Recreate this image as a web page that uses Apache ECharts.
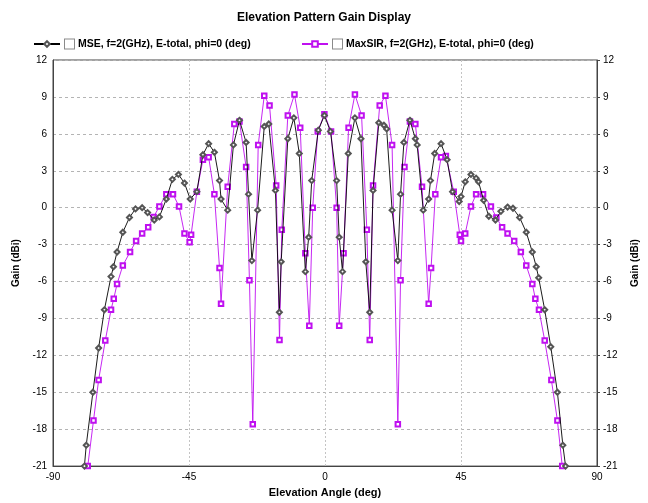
<!DOCTYPE html>
<html>
<head>
<meta charset="utf-8">
<script src="https://cdn.jsdelivr.net/npm/echarts@6/dist/echarts.min.js"></script>
<style>
  html, body { margin: 0; padding: 0; background: #fff; }
  #chart { width: 648px; height: 503px; }
</style>
</head>
<body>
<div id="chart"></div>
<script>
const mseName = 'MSE, f=2(GHz), E-total, phi=0 (deg)';
const sirName = 'MaxSIR, f=2(GHz), E-total, phi=0 (deg)';
const yTicks = [-21, -18, -15, -12, -9, -6, -3, 0, 3, 6, 9, 12];
const xTicks = [-90, -45, 0, 45, 90];

const mseAngle = [-79.6, -79.0, -76.8, -74.9, -73.0, -70.8, -70.0, -68.8, -66.9, -64.7, -62.7, -60.5, -58.7, -56.5, -54.8,
  -52.5, -50.5, -48.5, -46.5, -44.6, -42.4, -40.4, -38.5, -36.6, -34.9, -34.4, -32.2, -30.3, -28.3, -26.1, -25.3, -24.2,
  -22.3, -20.1, -18.6, -16.4, -15.1, -14.5, -12.3, -10.3, -8.5, -6.5, -5.4, -4.4, -2.2, -0.2, 1.8, 3.85, 4.7, 5.8, 7.7,
  9.9, 11.9, 13.5, 14.8, 15.9, 17.8, 19.5, 20.4, 22.2, 24.1, 25.0, 26.1, 28.1, 29.9, 30.5, 32.5, 34.3, 34.9, 36.3, 38.4,
  40.4, 42.2, 44.4, 45.0, 46.4, 48.3, 50.0, 50.8, 52.5, 54.2, 56.4, 58.2, 60.4, 62.2, 64.4, 66.6, 68.6, 69.9, 70.7, 72.7,
  74.7, 76.9, 78.7, 79.6];
const mseGain = [-21, -19.3, -15.0, -11.4, -8.3, -5.6, -4.8, -3.6, -2.0, -0.8, -0.1, 0.0, -0.4, -1.0, -0.75,
  0.7, 2.3, 2.7, 2.0, 0.7, 1.3, 4.3, 5.2, 4.5, 2.2, 0.7, -0.2, 5.1, 7.1, 5.3, 1.1, -4.3,
  -0.2, 6.6, 6.8, 1.4, -8.5, -4.4, 5.6, 7.3, 4.4, -5.2, -2.4, 2.2, 6.3, 7.5, 6.2, 2.2, -2.4, -5.2, 4.4,
  7.3, 5.6, -4.4, -8.5, 1.4, 6.9, 6.7, 6.4, -0.2, -4.3, 1.1, 5.3, 7.1, 5.6, 5.1, -0.2, 0.7, 2.2, 4.4, 5.2,
  3.9, 1.3, 0.5, 0.9, 2.1, 2.7, 2.4, 2.1, 0.6, -0.7, -1.0, -0.3, 0.05, -0.05, -0.8, -2.0, -3.6, -4.8, -5.7, -8.3,
  -11.3, -15.0, -19.3, -21];

const sirAngle = [-78.5, -76.6, -74.9, -72.7, -70.8, -69.9, -68.8, -66.9, -64.5, -62.5, -60.5, -58.5, -56.7, -54.8,
  -52.5, -50.3, -48.3, -46.5, -44.8, -44.3, -42.4, -40.4, -38.5, -36.6, -34.9, -34.4, -32.2, -30.0, -28.3, -26.1,
  -25.0, -23.9, -22.1, -20.1, -18.35, -16.15, -15.05, -14.3, -12.3, -10.1, -8.2, -6.5, -5.2, -4.05, -2.4, -0.2,
  2.0, 3.85, 4.7, 6.15, 7.8, 9.9, 12.1, 13.85, 14.8, 15.9, 18.1, 20.0, 22.2, 24.1, 25.0, 26.3, 28.1, 29.9, 32.1,
  34.3, 35.1, 36.5, 38.4, 40.0, 42.6, 44.6, 45.0, 46.4, 48.3, 50.0, 52.3, 54.9, 56.7, 58.6, 60.4, 62.6, 64.8, 66.6,
  68.6, 69.6, 70.8, 72.7, 74.9, 76.9, 78.5];
const sirGain = [-21, -17.3, -14.0, -10.8, -8.3, -7.4, -6.2, -4.7, -3.6, -2.7, -2.1, -1.6, -0.75, 0.1,
  1.1, 1.1, 0.1, -2.1, -2.8, -2.2, 1.3, 3.9, 4.1, 1.1, -4.9, -7.8, 1.7, 6.8, 7.0, 3.3,
  -5.9, -17.6, 5.1, 9.1, 8.3, 1.8, -10.75, -1.8, 7.5, 9.2, 6.5, -3.7, -9.6, 0, 6.2, 7.6,
  6.2, 0, -9.6, -3.7, 6.5, 9.2, 7.5, -1.8, -10.75, 1.8, 8.3, 9.1, 5.1, -17.6, -5.9, 3.3, 7.0, 6.8, 1.7,
  -7.8, -4.9, 1.1, 4.1, 4.2, 1.3, -2.2, -2.7, -2.1, 0.1, 1.1, 1.1, 0.1, -0.8, -1.6, -2.1, -2.7, -3.6, -4.7,
  -6.2, -7.4, -8.3, -10.8, -14.0, -17.3, -21];

const purple = '#bf10f0';
const font = 'Liberation Sans, Arial, sans-serif';
const narrow = 'Liberation Sans Narrow, Arial Narrow, Liberation Sans, sans-serif';

function zip(a, b) {
  return a.map((x, i) => [x, b[i]]);
}

function yAxisCfg(pos) {
  return {
    type: 'value',
    position: pos,
    min: yTicks[0],
    max: yTicks[yTicks.length - 1],
    interval: 3,
    name: 'Gain (dBi)',
    nameLocation: 'middle',
    nameGap: pos === 'left' ? 28 : 33,
    nameTextStyle: { fontFamily: font, fontSize: 10, fontWeight: 'bold', color: '#000' },
    axisLine: { show: true, onZero: false, lineStyle: { color: '#444', width: 1 } },
    axisTick: { show: pos === 'right', length: 3, lineStyle: { color: '#444' } },
    axisLabel: { fontFamily: font, fontSize: 10, color: '#000', margin: 6 },
    splitLine: pos === 'left'
      ? { show: true, lineStyle: { color: '#b4b4b4', type: [3, 3], width: 1 } }
      : { show: false }
  };
}

const legendRich = {
  box: { width: 9, height: 9, borderColor: '#8a8a8a', borderWidth: 1, backgroundColor: '#fff' },
  txt: { fontFamily: narrow, fontSize: 10.5, fontWeight: 'bold', color: '#000', padding: [0, 0, 0, 4] }
};

const chart = echarts.init(document.getElementById('chart'), null, { renderer: 'canvas' });
chart.setOption({
  animation: false,
  backgroundColor: '#fff',
  title: {
    text: 'Elevation Pattern Gain Display',
    left: 'center',
    top: 7,
    textStyle: { fontFamily: font, fontSize: 12, fontWeight: 'bold', color: '#000' }
  },
  legend: [
    {
      data: [mseName],
      left: 28,
      top: 33,
      itemWidth: 26,
      itemHeight: 7,
      itemGap: 4,
      formatter: n => '{box|}{txt|' + n + '}',
      textStyle: { rich: legendRich }
    },
    {
      data: [sirName],
      left: 296,
      top: 33,
      itemWidth: 26,
      itemHeight: 7,
      itemGap: 4,
      formatter: n => '{box|}{txt|' + n + '}',
      textStyle: { rich: legendRich }
    }
  ],
  grid: {
    left: 53,
    right: 49,
    top: 60,
    bottom: 34,
    show: true,
    borderColor: '#444',
    borderWidth: 1,
    backgroundColor: '#fff'
  },
  xAxis: {
    type: 'value',
    min: xTicks[0],
    max: xTicks[xTicks.length - 1],
    interval: 45,
    name: 'Elevation Angle (deg)',
    nameLocation: 'middle',
    nameGap: 20,
    nameTextStyle: { fontFamily: font, fontSize: 11, fontWeight: 'bold', color: '#000' },
    axisLine: { show: true, onZero: false, lineStyle: { color: '#444', width: 1 } },
    axisTick: { show: false },
    axisLabel: { fontFamily: font, fontSize: 10, color: '#000', margin: 6 },
    splitLine: { show: true, lineStyle: { color: '#c4c4c4', type: [2, 2], width: 1 } }
  },
  yAxis: [yAxisCfg('left'), yAxisCfg('right')],
  series: [
    {
      name: mseName,
      type: 'line',
      data: zip(mseAngle, mseGain),
      symbol: 'emptyDiamond',
      symbolSize: 5,
      itemStyle: { color: '#555', borderColor: '#555', borderWidth: 0.7 },
      lineStyle: { color: '#000', width: 0.9 },
      z: 3
    },
    {
      name: sirName,
      type: 'line',
      data: zip(sirAngle, sirGain),
      symbol: 'emptyRect',
      symbolSize: 4.5,
      itemStyle: { color: purple, borderColor: purple, borderWidth: 0.7 },
      lineStyle: { color: purple, width: 0.9 },
      z: 2
    }
  ]
});
</script>
</body>
</html>
